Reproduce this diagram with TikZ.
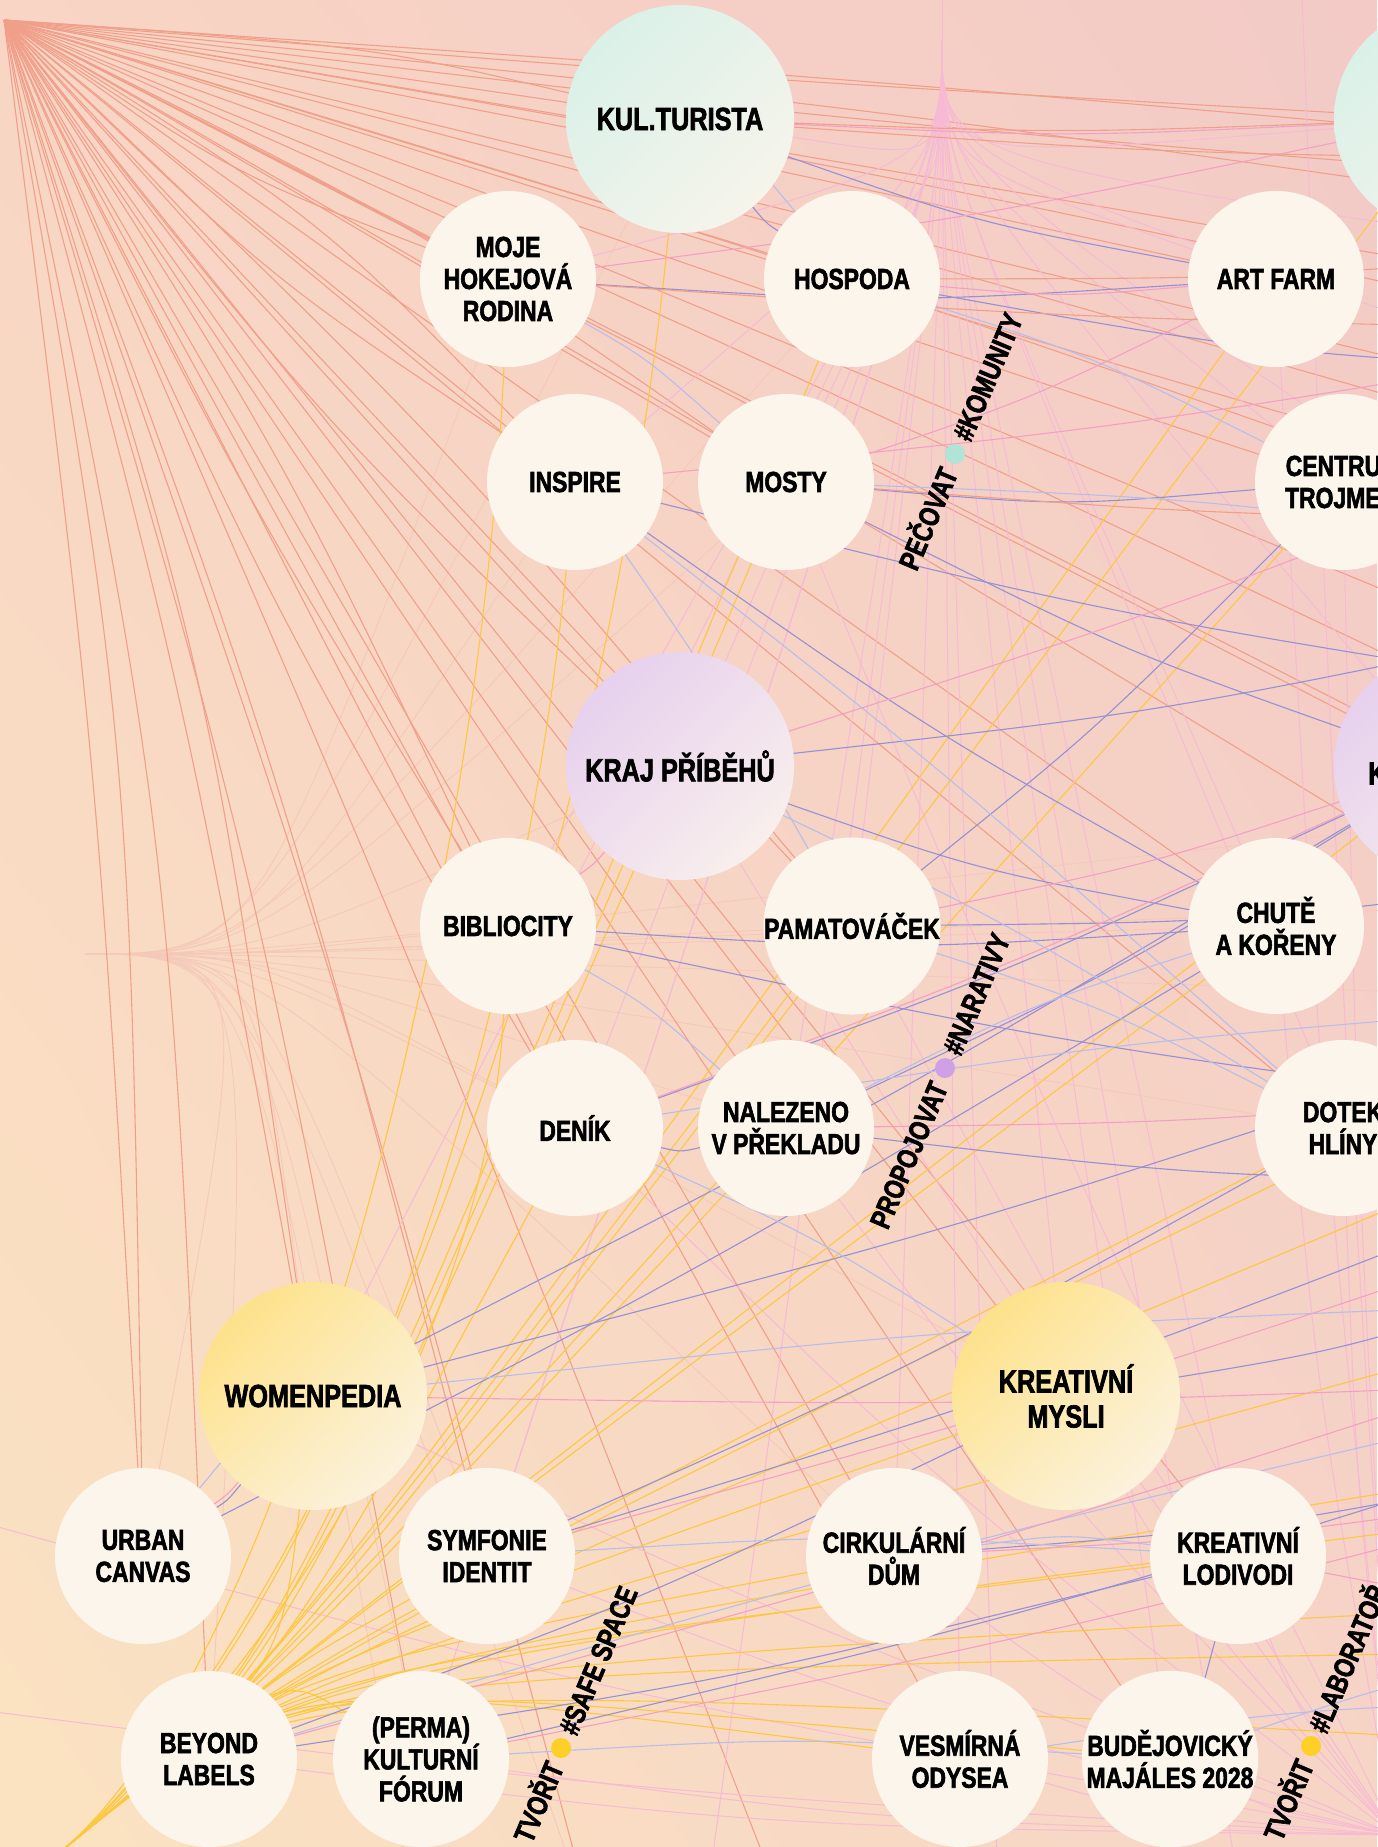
\documentclass[tikz,border=0pt]{standalone}
\usepackage{fontspec}
\newfontfamily\lbl{Liberation Sans}[FakeStretch=0.79, FakeBold=2]
\usetikzlibrary{calc,shadings}
\pgfdeclarelayer{bgfill}
\pgfdeclarelayer{edges}
\pgfsetlayers{bgfill,edges,main}
\definecolor{bgTL}{RGB}{248,213,196}
\definecolor{bgTR}{RGB}{243,202,198}
\definecolor{bgBL}{RGB}{251,227,193}
\definecolor{bgBR}{RGB}{246,212,198}
\definecolor{cream}{RGB}{252,245,236}
\definecolor{tealC}{RGB}{212,240,231}
\definecolor{violC}{RGB}{227,202,238}
\definecolor{yelC}{RGB}{253,222,120}
\definecolor{salm}{RGB}{240,160,138}
\definecolor{pinkM}{RGB}{243,160,196}
\definecolor{pinkLL}{RGB}{246,186,212}
\definecolor{viol}{RGB}{150,144,212}
\definecolor{lav}{RGB}{184,190,234}
\definecolor{yel}{RGB}{253,200,64}
\definecolor{faint}{RGB}{245,201,186}
\definecolor{dotT}{RGB}{176,228,214}
\definecolor{dotV}{RGB}{208,160,230}
\definecolor{dotY}{RGB}{253,208,40}
\tikzset{
  sm/.style={circle, fill=cream, minimum size=176pt, inner sep=0pt, align=center,
    font=\lbl\bfseries\fontsize{29}{32}\selectfont},
  bigbase/.style={circle, minimum size=228pt, inner sep=0pt, align=center,
    font=\lbl\bfseries\fontsize{32}{35}\selectfont, shade},
  bigT/.style={bigbase, upper left=tealC, upper right=tealC!50!cream, lower left=tealC!50!cream, lower right=cream},
  bigV/.style={bigbase, upper left=violC, upper right=violC!50!cream, lower left=violC!50!cream, lower right=cream},
  bigY/.style={bigbase, upper left=yelC, upper right=yelC!45!cream, lower left=yelC!45!cream, lower right=cream},
  tagdot/.style={circle, minimum size=20pt, inner sep=0pt},
  tagtxt/.style={font=\lbl\bfseries\fontsize{29}{32}\selectfont, inner sep=0pt, rotate=67, text height=21pt, text depth=0pt},
  eSalm/.style={draw=salm, line width=1.1pt},
  ePinkL/.style={draw=pinkLL, line width=1pt},
  ePinkM/.style={draw=pinkM, line width=1.1pt},
  eYel/.style={draw=yel, line width=1.1pt},
  eViol/.style={draw=viol, line width=1.1pt},
  eLav/.style={draw=lav, line width=1.1pt},
  eFaint/.style={draw=faint, line width=0.9pt},
}
\begin{document}
\begin{tikzpicture}[x=1pt,y=-1pt]
\useasboundingbox (0,0) rectangle (1377,1847);
\begin{pgfonlayer}{bgfill}
\shade[upper left=bgTL, upper right=bgTR, lower left=bgBL, lower right=bgBR] (0,0) rectangle (1377,1847);
\end{pgfonlayer}
% hubs and off-picture ends
\coordinate (TL) at (4,20);
\coordinate (P) at (942,41);
\coordinate (Ptop) at (942,-60);
\coordinate (BL) at (60,1852);
\coordinate (BR) at (1395,1835);
\coordinate (L) at (85,954);
\coordinate (T1300) at (1300,-60);
\coordinate (W1500) at (-100,1500);
\coordinate (W1700) at (-100,1700);
\foreach \y in {150,160,185,220,250,260,300,330,340,375,400,420,470,520,560,610,640,700,780,800,860,870,900,1000,1080,1100,1120,1150,1180,1200,1250,1300,1330,1380,1420,1450,1480,1500,1600,1640,1650,1700,1750}
  \coordinate (R\y) at (1650,\y);
\foreach \x in {100,260,420,600,700,800,1000,1250}
  \coordinate (B\x) at (\x,1950);
% nodes
\node[bigT] (kul) at (680,119) {KUL.TURISTA};
\node[bigT] (tealR) at (1448,119) {};
\node[sm] (moje) at (508,279) {MOJE\\HOKEJOVÁ\\RODINA};
\node[sm] (hosp) at (852,279) {HOSPODA};
\node[sm] (art) at (1276,279) {ART FARM};
\node[sm] (insp) at (575,482) {INSPIRE};
\node[sm] (most) at (786,482) {MOSTY};
\node[sm] (centr) at (1343,482) {CENTRUM\\TROJMEZÍ};
\node[bigV] (kraj) at (680,766) {KRAJ PŘÍBĚHŮ};
\node[bigV] (violR) at (1448,766) {};
\node[anchor=west, inner sep=0pt, text height=23pt, text depth=0pt, font=\lbl\bfseries\fontsize{32}{35}\selectfont] (kpart) at (1368,773) {K};
\node[sm] (bibl) at (508,926) {BIBLIOCITY};
\node[sm] (pamat) at (852,926) {PAMATOVÁČEK};
\node[sm] (chute) at (1276,926) {CHUTĚ\\A KOŘENY};
\node[sm] (denik) at (575,1128) {DENÍK};
\node[sm] (nalez) at (786,1128) {NALEZENO\\V PŘEKLADU};
\node[sm] (dotek) at (1343,1128) {DOTEK\\HLÍNY};
\node[bigY] (women) at (313,1396) {WOMENPEDIA};
\node[bigY] (kreat) at (1066,1396) {KREATIVNÍ\\MYSLI};
\node[sm] (urban) at (143,1556) {URBAN\\CANVAS};
\node[sm] (symf) at (487,1556) {SYMFONIE\\IDENTIT};
\node[sm] (cirk) at (894,1556) {CIRKULÁRNÍ\\DŮM};
\node[sm] (lodi) at (1238,1556) {KREATIVNÍ\\LODIVODI};
\node[sm] (beyond) at (209,1759) {BEYOND\\LABELS};
\node[sm] (perma) at (421,1759) {(PERMA)\\KULTURNÍ\\FÓRUM};
\node[sm] (vesm) at (960,1759) {VESMÍRNÁ\\ODYSEA};
\node[sm] (majal) at (1170,1759) {BUDĚJOVICKÝ\\MAJÁLES 2028};
% tags
\node[tagdot, fill=dotT] (d1) at (955,454) {};
\node[tagtxt, anchor=east] (t1a) at ($(d1)+(-6,15)$) {PEČOVAT};
\node[tagtxt, anchor=west] (t1b) at ($(d1)+(6,-15)$) {\#KOMUNITY};
\node[tagdot, fill=dotV] (d2) at (945,1068) {};
\node[tagtxt, anchor=east] (t2a) at ($(d2)+(-6,15)$) {PROPOJOVAT};
\node[tagtxt, anchor=west] (t2b) at ($(d2)+(6,-15)$) {\#NARATIVY};
\node[tagdot, fill=dotY] (d3) at (561,1748) {};
\node[tagtxt, anchor=east] (t3a) at ($(d3)+(-6,15)$) {TVOŘIT};
\node[tagtxt, anchor=west] (t3b) at ($(d3)+(6,-15)$) {\#SAFE SPACE};
\node[tagdot, fill=dotY] (d4) at (1311,1746) {};
\node[tagtxt, anchor=east] (t4a) at ($(d4)+(-6,15)$) {TVOŘIT};
\node[tagtxt, anchor=west] (t4b) at ($(d4)+(6,-15)$) {\#LABORATOŘ};
% edges
\begin{pgfonlayer}{edges}
% faint fan from the left
\foreach \t in {bibl,kraj,insp,moje,most,denik,nalez,pamat,women,symf,cirk,kreat,urban,beyond,perma,chute,dotek,R900,R1000,R800,kul,hosp,B600,B420}
  \draw[eFaint] (L) .. controls ($(L)+(170,0)$) .. (\t);
% salmon fan from top left
\foreach \t/\b in {kul/0,kul/3,R150/1,R185/-2,R220/2,hosp/0,art/1,moje/0,moje/-3,tealR/-1,R300/0,R340/2,centr/-1,most/0,most/3,insp/0,insp/-3,insp/4,R420/0,R470/1,R520/-1,R560/2,violR/0,kraj/0,kraj/-3,chute/0,pamat/0,pamat/3,bibl/-2,bibl/3,R700/0,R780/1,nalez/0,denik/0,denik/-3,dotek/0,R860/0,R1000/1,kreat/0,lodi/0,cirk/0,majal/0,vesm/0,women/3,women/6,symf/4,perma/5,urban/7,urban/3,beyond/8,B600/4,B800/2}
  \draw[eSalm] (TL) .. controls ($(TL)!0.5!(\t)+({8*\b},{-8*\b})$) .. (\t);
% pink fan from the top
\draw[ePinkL] (P) -- (Ptop);
\foreach \t in {moje,kul,hosp,insp,most,kraj,bibl,pamat,denik,nalez,art,centr,chute,dotek,tealR,violR,cirk,kreat,lodi,majal,vesm,symf,women,perma,R260,R400,R640,B700,B1000,B1250}
  \draw[ePinkL] (P) .. controls ($(P)+(0,120)$) .. (\t);
% pink fan from the bottom right
\foreach \t/\b in {lodi/3,majal/2,vesm/3,cirk/4,kreat/3,dotek/2,chute/3,violR/2,centr/2,art/3,tealR/1,nalez/4,denik/4,pamat/3,kraj/3,symf/4,perma/4,women/4,beyond/5,most/3,T1300/2,W1500/5,W1700/4,R1300/2}
  \draw[ePinkL] (BR) .. controls ($(BR)!0.5!(\t)+({-6*\b},{6*\b})$) .. (\t);
% yellow fan from the bottom left
\foreach \t in {perma,symf,women,cirk,kreat,lodi,vesm,majal,denik,nalez,pamat,kraj,most,hosp,art,centr,chute,dotek,violR,tealR,R1500,R1650,R1750,R1300,R1100,R1000,R1600,R1450}
  \draw[eYel] (BL) .. controls ($(BL)+(220,-180)$) .. (\t);
\draw[eYel] (BL) .. controls ($(BL)+(220,-180)$) and ($(kul)+(-90,900)$) .. (kul);
\draw[eYel] (BL) .. controls ($(BL)+(220,-180)$) and ($(insp)+(-70,700)$) .. (insp);
\draw[eYel] (BL) .. controls ($(BL)+(220,-180)$) and ($(moje)+(-30,650)$) .. (moje);
\draw[eYel] (BL) .. controls ($(BL)+(220,-180)$) and ($(bibl)+(-20,400)$) .. (bibl);
% violet links
\foreach \a/\b in {moje/art,kul/art,hosp/R375,most/centr,kraj/R610,bibl/chute,denik/nalez,denik/violR,nalez/R1180,women/urban,women/violR,women/R1000,symf/dotek,symf/R1150,beyond/kreat,beyond/lodi,cirk/R1450,kreat/R1250,insp/chute,most/violR,pamat/centr,pamat/R870,hosp/kul,urban/chute,perma/R1420,majal/lodi,nalez/violR,bibl/R1120,kraj/chute,insp/R700}
  \draw[eViol] (\a) .. controls ($(\a)!0.5!(\b)+(0,24)$) .. (\b);
% lavender links
\foreach \a/\b in {moje/most,insp/dotek,kraj/dotek,bibl/nalez,pamat/dotek,women/R1300,symf/lodi,cirk/lodi,perma/majal,denik/kreat,insp/pamat,kul/hosp,beyond/R1380,urban/women,vesm/R1700,majal/R1640,most/R560,hosp/centr,denik/R1000,nalez/chute}
  \draw[eLav] (\a) .. controls ($(\a)!0.5!(\b)+(0,-22)$) .. (\b);
% pink links
\foreach \a/\b in {kul/tealR,moje/tealR,hosp/art,women/R1380,urban/women,symf/R1200,beyond/R1330,perma/R1480,denik/violR,pamat/violR,bibl/kraj,kraj/R420,nalez/R1080,cirk/R1480,most/art,lodi/R1600,insp/R340}
  \draw[ePinkM] (\a) .. controls ($(\a)!0.5!(\b)+(0,18)$) .. (\b);
% salmon links
\foreach \a/\b in {kul/tealR,kul/R160,moje/R330,hosp/R250,most/R520}
  \draw[eSalm] (\a) .. controls ($(\a)!0.5!(\b)+(0,14)$) .. (\b);
\end{pgfonlayer}
\end{tikzpicture}
\end{document}
